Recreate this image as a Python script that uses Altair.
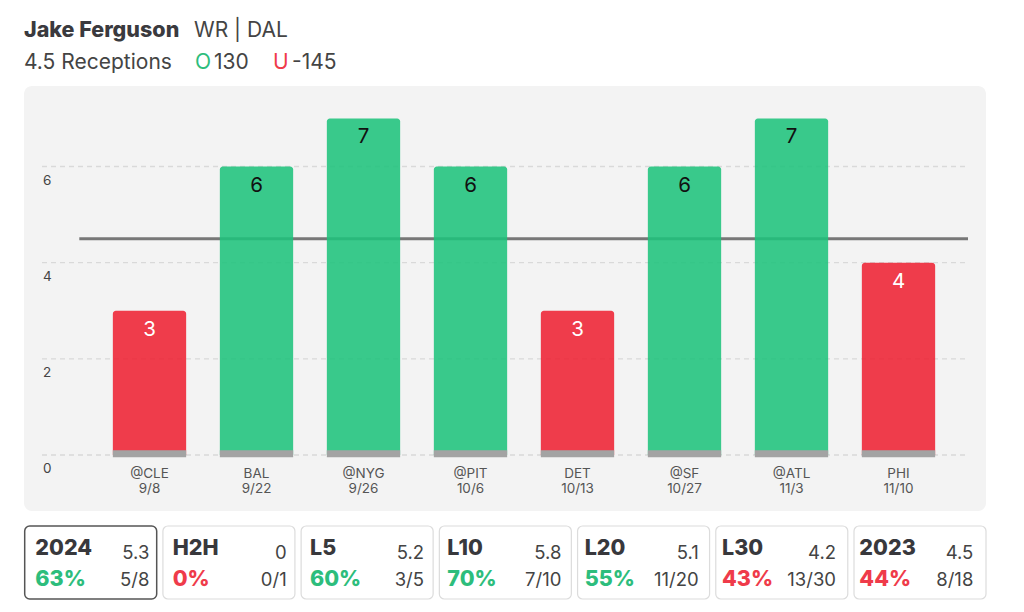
import altair as alt
import pandas as pd

# ---------------- data ----------------
player = "Jake Ferguson"
position_team = "WR | DAL"
prop_label = "4.5 Receptions"
over_odds = "130"
under_odds = "-145"
prop_line = 4.5

games = ["@CLE", "BAL", "@NYG", "@PIT", "DET", "@SF", "@ATL", "PHI"]
dates = ["9/8", "9/22", "9/26", "10/6", "10/13", "10/27", "11/3", "11/10"]
receptions = [3, 6, 7, 6, 3, 6, 7, 4]
y_ticks = [0, 2, 4, 6]

card_labels = ["2024", "H2H", "L5", "L10", "L20", "L30", "2023"]
card_avg = ["5.3", "0", "5.2", "5.8", "5.1", "4.2", "4.5"]
card_pct = ["63%", "0%", "60%", "70%", "55%", "43%", "44%"]
card_frac = ["5/8", "0/1", "3/5", "7/10", "11/20", "13/30", "8/18"]

# ---------------- styling ----------------
GREEN = "#1fc37c"
RED = "#ee2233"
TXT_GREEN = "#2dbd7c"
TXT_RED = "#ef3b4a"
FONT = "Inter"

games_df = pd.DataFrame({
    "game": games,
    "date": dates,
    "rec": receptions,
    "res": ["over" if r > prop_line else "under" for r in receptions],
})
tick_df = pd.DataFrame({"v": y_ticks})
line_df = pd.DataFrame({"line": [prop_line]})
one = pd.DataFrame({"a": [0]})

hits = [int(f.split("/")[0]) for f in card_frac]
tots = [int(f.split("/")[1]) for f in card_frac]
cards_df = pd.DataFrame({
    "card": card_labels,
    "avg": card_avg,
    "pct": card_pct,
    "frac": card_frac,
    "good": ["g" if h / t > 0.5 else "b" for h, t in zip(hits, tots)],
    "sel": ["y" if i == 0 else "n" for i in range(len(card_labels))],
})

xg = alt.Scale(domain=games, range=[88, 944], paddingInner=0.315, paddingOuter=0.1575)
ys = alt.Scale(domain=[0, 6], range=[447, 158.5], nice=False, zero=False)
xc = alt.Scale(domain=card_labels, range=[16.7, 978], paddingInner=0.045, paddingOuter=0)

XG = alt.X("game:N", scale=xg, axis=None, sort=games)
XC = alt.X("card:N", scale=xc, axis=None, sort=card_labels)

panel = alt.Chart(one).mark_rect(fill="#f3f3f3", cornerRadius=8).encode(
    x=alt.value(16), x2=alt.value(978), y=alt.value(78), y2=alt.value(503)
)

grid = alt.Chart(tick_df).mark_rule(color="#d9d9d9", strokeDash=[5, 4], strokeWidth=1.3).encode(
    y=alt.Y("v:Q", scale=ys, axis=None), x=alt.value(34), x2=alt.value(960)
)

ylab = alt.Chart(tick_df).mark_text(
    align="left", baseline="alphabetic", dy=18, fontSize=13.5, color="#444", font=FONT
).encode(y=alt.Y("v:Q", scale=ys, axis=None), x=alt.value(35), text="v:Q")

rule = alt.Chart(line_df).mark_rule(color="#777777", strokeWidth=3).encode(
    y=alt.Y("line:Q", scale=ys, axis=None), x=alt.value(71.3), x2=alt.value(960)
)

bars = alt.Chart(games_df).mark_bar(
    cornerRadiusTopLeft=3, cornerRadiusTopRight=3, opacity=0.88
).encode(
    x=XG,
    y=alt.Y("rec:Q", scale=ys, axis=None),
    y2=alt.Y2Datum(0),
    color=alt.Color("res:N", scale=alt.Scale(domain=["over", "under"], range=[GREEN, RED]), legend=None),
)

base = alt.Chart(games_df).mark_bar(color="#a3a3a3").encode(
    x=XG, y=alt.YDatum(0.1, scale=ys, axis=None), y2=alt.Y2Datum(-0.045)
)

vals = alt.Chart(games_df).mark_text(
    baseline="alphabetic", dy=25, fontSize=20.5, font=FONT
).encode(
    x=XG,
    y=alt.Y("rec:Q", scale=ys, axis=None),
    text="rec:Q",
    color=alt.Color("res:N", scale=alt.Scale(domain=["over", "under"], range=["#111111", "#ffffff"]), legend=None),
)

xlab1 = alt.Chart(games_df).mark_text(baseline="alphabetic", fontSize=13.5, color="#555", font=FONT).encode(
    x=XG, y=alt.value(470), text="game:N"
)
xlab2 = alt.Chart(games_df).mark_text(baseline="alphabetic", fontSize=13.5, color="#555", font=FONT).encode(
    x=XG, y=alt.value(485), text="date:N"
)

def htext(txt, x, y, size, color, weight="normal"):
    return alt.Chart(one).mark_text(
        text=txt, align="left", baseline="alphabetic", fontSize=size, color=color,
        fontWeight=weight, font=FONT
    ).encode(x=alt.value(x), y=alt.value(y))

header = [
    htext(player, 16, 29, 21.5, "#3a3a3e", 800),
    htext(position_team, 186, 29, 21, "#444444"),
    htext(prop_label, 16, 61, 21, "#444444"),
    htext("O", 187, 61, 21, TXT_GREEN),
    htext(over_odds, 206, 61, 21, "#444444"),
    htext("U", 265, 61, 21, TXT_RED),
    htext(under_odds, 284, 61, 21, "#444444"),
]

card_rect = alt.Chart(cards_df).mark_rect(cornerRadius=5, fill="white").encode(
    x=XC, y=alt.value(518), y2=alt.value(591),
    stroke=alt.Stroke("sel:N", scale=alt.Scale(domain=["y", "n"], range=["#555555", "#dcdcdc"]), legend=None),
    strokeWidth=alt.StrokeWidth("sel:N", scale=alt.Scale(domain=["y", "n"], range=[1.5, 1.2]), legend=None),
)

c_lab = alt.Chart(cards_df).mark_text(
    align="left", baseline="alphabetic", dx=-58, fontSize=21.5, fontWeight=800, color="#38383c", font=FONT
).encode(x=XC, y=alt.value(547), text="card:N")

c_avg = alt.Chart(cards_df).mark_text(
    align="right", baseline="alphabetic", dx=56, fontSize=18.5, color="#444", font=FONT
).encode(x=XC, y=alt.value(551), text="avg:N")

c_pct = alt.Chart(cards_df).mark_text(
    align="left", baseline="alphabetic", dx=-58, fontSize=21.5, fontWeight=800, font=FONT
).encode(
    x=XC, y=alt.value(578), text="pct:N",
    color=alt.Color("good:N", scale=alt.Scale(domain=["g", "b"], range=[TXT_GREEN, TXT_RED]), legend=None),
)

c_frac = alt.Chart(cards_df).mark_text(
    align="right", baseline="alphabetic", dx=56, fontSize=18.5, color="#444", font=FONT
).encode(x=XC, y=alt.value(578), text="frac:N")

chart = alt.layer(
    panel, grid, ylab, rule, bars, base, vals, xlab1, xlab2,
    *header,
    card_rect, c_lab, c_avg, c_pct, c_frac,
).resolve_scale(
    x="independent", y="independent", color="independent", stroke="independent", strokeWidth="independent"
).properties(
    width=1008, height=596, autosize=alt.AutoSizeParams(type="none"), padding=0, background="white"
).configure_view(stroke=None)

chart.save("out.html", embed_options={"renderer": "svg", "actions": False})
